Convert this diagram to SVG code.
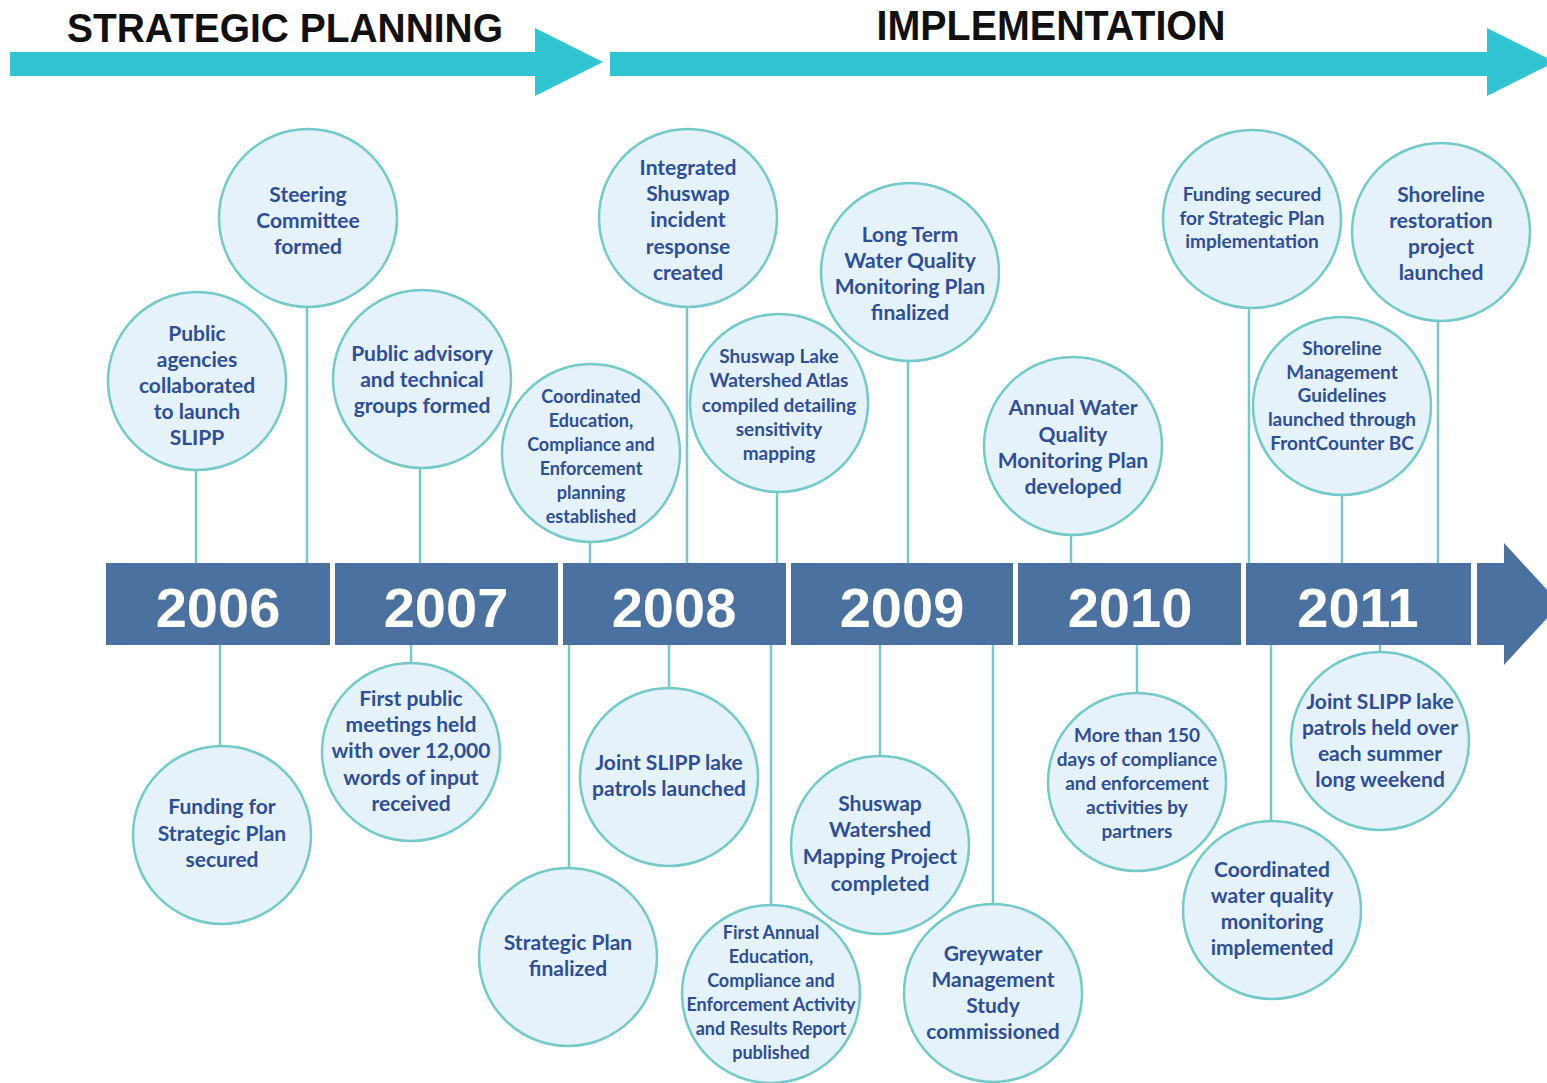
<svg xmlns="http://www.w3.org/2000/svg" width="1547" height="1083" viewBox="0 0 1547 1083">
<style>
.c{fill:#e5f2f9;stroke:#74c9c9;stroke-width:2.5}
.t{font-family:Lato,"Open Sans",sans-serif;font-weight:700;fill:#2f4e98;text-anchor:middle;font-size:21px}
.s19{font-size:19px}
.s18{font-size:18px}
.seg{fill:#4a71a0}
.yr{font-family:"Liberation Sans",Arial,sans-serif;font-weight:700;fill:#ffffff;text-anchor:middle;font-size:56px}
.ph{font-family:"Liberation Sans",Arial,sans-serif;font-weight:700;fill:#111111;text-anchor:middle}
.ar{fill:#31c4d2}
.ln{stroke:#74c9c9;stroke-width:2.5;fill:none}
</style>
<rect width="1547" height="1083" fill="#ffffff"/>
<g id="phases">
<polygon class="ar" points="10,52 535,52 535,28 603,62 535,96 535,76 10,76"/>
<polygon class="ar" points="610,52 1487,52 1487,28 1555,62 1487,96 1487,76 610,76"/>
<text class="ph" x="285" y="42" font-size="40" textLength="436" lengthAdjust="spacingAndGlyphs">STRATEGIC PLANNING</text>
<text class="ph" x="1051" y="40" font-size="42" textLength="349" lengthAdjust="spacingAndGlyphs">IMPLEMENTATION</text>
</g>
<g id="connectors">
<line class="ln" x1="196" y1="470" x2="196" y2="564"/>
<line class="ln" x1="307" y1="307" x2="307" y2="564"/>
<line class="ln" x1="420" y1="468" x2="420" y2="564"/>
<line class="ln" x1="590" y1="542" x2="590" y2="564"/>
<line class="ln" x1="687" y1="307" x2="687" y2="564"/>
<line class="ln" x1="777" y1="492" x2="777" y2="564"/>
<line class="ln" x1="908" y1="361" x2="908" y2="564"/>
<line class="ln" x1="1071" y1="535" x2="1071" y2="564"/>
<line class="ln" x1="1249" y1="308" x2="1249" y2="564"/>
<line class="ln" x1="1342" y1="495" x2="1342" y2="564"/>
<line class="ln" x1="1438" y1="321" x2="1438" y2="564"/>
<line class="ln" x1="220" y1="644" x2="220" y2="746"/>
<line class="ln" x1="411" y1="644" x2="411" y2="663"/>
<line class="ln" x1="569" y1="644" x2="569" y2="868"/>
<line class="ln" x1="669" y1="644" x2="669" y2="688"/>
<line class="ln" x1="771" y1="644" x2="771" y2="905"/>
<line class="ln" x1="880" y1="644" x2="880" y2="756"/>
<line class="ln" x1="993" y1="644" x2="993" y2="904"/>
<line class="ln" x1="1137" y1="644" x2="1137" y2="693"/>
<line class="ln" x1="1271" y1="644" x2="1271" y2="821"/>
<line class="ln" x1="1380" y1="644" x2="1380" y2="652"/>
</g>
<g id="timeline">
<rect class="seg" x="106" y="563" width="224" height="82"/>
<rect class="seg" x="335" y="563" width="223" height="82"/>
<rect class="seg" x="563" y="563" width="223" height="82"/>
<rect class="seg" x="791" y="563" width="222" height="82"/>
<rect class="seg" x="1018" y="563" width="223" height="82"/>
<rect class="seg" x="1246" y="563" width="225" height="82"/>
<polygon class="seg" points="1477,563 1504,563 1504,543 1560,604 1504,665 1504,645 1477,645"/>
<text class="yr" x="218" y="627">2006</text>
<text class="yr" x="446" y="627">2007</text>
<text class="yr" x="674" y="627">2008</text>
<text class="yr" x="902" y="627">2009</text>
<text class="yr" x="1130" y="627">2010</text>
<text class="yr" x="1358" y="627">2011</text>
</g>
<g id="n-agencies"><circle class="c" cx="197" cy="381" r="89"/><text class="t"><tspan x="197" y="341">Public</tspan><tspan x="197" y="367">agencies</tspan><tspan x="197" y="393">collaborated</tspan><tspan x="197" y="419">to launch</tspan><tspan x="197" y="445">SLIPP</tspan></text></g>
<g id="n-steering"><circle class="c" cx="308" cy="218" r="89"/><text class="t"><tspan x="308" y="202">Steering</tspan><tspan x="308" y="228">Committee</tspan><tspan x="308" y="254">formed</tspan></text></g>
<g id="n-advisory"><circle class="c" cx="422" cy="379" r="89"/><text class="t"><tspan x="422" y="361">Public advisory</tspan><tspan x="422" y="387">and technical</tspan><tspan x="422" y="413">groups formed</tspan></text></g>
<g id="n-coordinated-ed"><circle class="c" cx="591" cy="453" r="89"/><text class="t s18"><tspan x="591" y="403">Coordinated</tspan><tspan x="591" y="427">Education,</tspan><tspan x="591" y="451">Compliance and</tspan><tspan x="591" y="475">Enforcement</tspan><tspan x="591" y="499">planning</tspan><tspan x="591" y="523">established</tspan></text></g>
<g id="n-incident"><circle class="c" cx="688" cy="218" r="89"/><text class="t"><tspan x="688" y="175">Integrated</tspan><tspan x="688" y="201">Shuswap</tspan><tspan x="688" y="227">incident</tspan><tspan x="688" y="254">response</tspan><tspan x="688" y="280">created</tspan></text></g>
<g id="n-atlas"><circle class="c" cx="779" cy="403" r="89"/><text class="t s19"><tspan x="779" y="363">Shuswap Lake</tspan><tspan x="779" y="387">Watershed Atlas</tspan><tspan x="779" y="412">compiled detailing</tspan><tspan x="779" y="436">sensitivity</tspan><tspan x="779" y="460">mapping</tspan></text></g>
<g id="n-longterm"><circle class="c" cx="910" cy="272" r="89"/><text class="t"><tspan x="910" y="242">Long Term</tspan><tspan x="910" y="268">Water Quality</tspan><tspan x="910" y="294">Monitoring Plan</tspan><tspan x="910" y="320">finalized</tspan></text></g>
<g id="n-annual"><circle class="c" cx="1073" cy="446" r="89"/><text class="t"><tspan x="1073" y="415">Annual Water</tspan><tspan x="1073" y="442">Quality</tspan><tspan x="1073" y="468">Monitoring Plan</tspan><tspan x="1073" y="494">developed</tspan></text></g>
<g id="n-funding-secured"><circle class="c" cx="1252" cy="219" r="89"/><text class="t s19"><tspan x="1252" y="201">Funding secured</tspan><tspan x="1252" y="225">for Strategic Plan</tspan><tspan x="1252" y="248">implementation</tspan></text></g>
<g id="n-guidelines"><circle class="c" cx="1342" cy="406" r="89"/><text class="t s19"><tspan x="1342" y="355">Shoreline</tspan><tspan x="1342" y="379">Management</tspan><tspan x="1342" y="402">Guidelines</tspan><tspan x="1342" y="426">launched through</tspan><tspan x="1342" y="450">FrontCounter BC</tspan></text></g>
<g id="n-restoration"><circle class="c" cx="1441" cy="232" r="89"/><text class="t"><tspan x="1441" y="202">Shoreline</tspan><tspan x="1441" y="228">restoration</tspan><tspan x="1441" y="254">project</tspan><tspan x="1441" y="280">launched</tspan></text></g>
<g id="n-funding-plan"><circle class="c" cx="222" cy="835" r="89"/><text class="t"><tspan x="222" y="814">Funding for</tspan><tspan x="222" y="841">Strategic Plan</tspan><tspan x="222" y="867">secured</tspan></text></g>
<g id="n-meetings"><circle class="c" cx="411" cy="752" r="89"/><text class="t"><tspan x="411" y="706">First public</tspan><tspan x="411" y="732">meetings held</tspan><tspan x="411" y="758">with over 12,000</tspan><tspan x="411" y="785">words of input</tspan><tspan x="411" y="811">received</tspan></text></g>
<g id="n-plan-finalized"><circle class="c" cx="568" cy="957" r="89"/><text class="t"><tspan x="568" y="950">Strategic Plan</tspan><tspan x="568" y="976">finalized</tspan></text></g>
<g id="n-patrols"><circle class="c" cx="669" cy="777" r="89"/><text class="t"><tspan x="669" y="770">Joint SLIPP lake</tspan><tspan x="669" y="796">patrols launched</tspan></text></g>
<g id="n-report"><circle class="c" cx="771" cy="994" r="89"/><text class="t s18"><tspan x="771" y="939">First Annual</tspan><tspan x="771" y="963">Education,</tspan><tspan x="771" y="987">Compliance and</tspan><tspan x="771" y="1011">Enforcement Activity</tspan><tspan x="771" y="1035">and Results Report</tspan><tspan x="771" y="1059">published</tspan></text></g>
<g id="n-mapping"><circle class="c" cx="880" cy="845" r="89"/><text class="t"><tspan x="880" y="811">Shuswap</tspan><tspan x="880" y="837">Watershed</tspan><tspan x="880" y="864">Mapping Project</tspan><tspan x="880" y="891">completed</tspan></text></g>
<g id="n-greywater"><circle class="c" cx="993" cy="993" r="89"/><text class="t"><tspan x="993" y="961">Greywater</tspan><tspan x="993" y="987">Management</tspan><tspan x="993" y="1013">Study</tspan><tspan x="993" y="1039">commissioned</tspan></text></g>
<g id="n-compliance"><circle class="c" cx="1137" cy="782" r="89"/><text class="t s19"><tspan x="1137" y="742">More than 150</tspan><tspan x="1137" y="766">days of compliance</tspan><tspan x="1137" y="790">and enforcement</tspan><tspan x="1137" y="814">activities by</tspan><tspan x="1137" y="838">partners</tspan></text></g>
<g id="n-water-monitoring"><circle class="c" cx="1272" cy="910" r="89"/><text class="t"><tspan x="1272" y="877">Coordinated</tspan><tspan x="1272" y="903">water quality</tspan><tspan x="1272" y="929">monitoring</tspan><tspan x="1272" y="955">implemented</tspan></text></g>
<g id="n-patrols-weekend"><circle class="c" cx="1380" cy="741" r="89"/><text class="t"><tspan x="1380" y="709">Joint SLIPP lake</tspan><tspan x="1380" y="735">patrols held over</tspan><tspan x="1380" y="761">each summer</tspan><tspan x="1380" y="787">long weekend</tspan></text></g>
</svg>
